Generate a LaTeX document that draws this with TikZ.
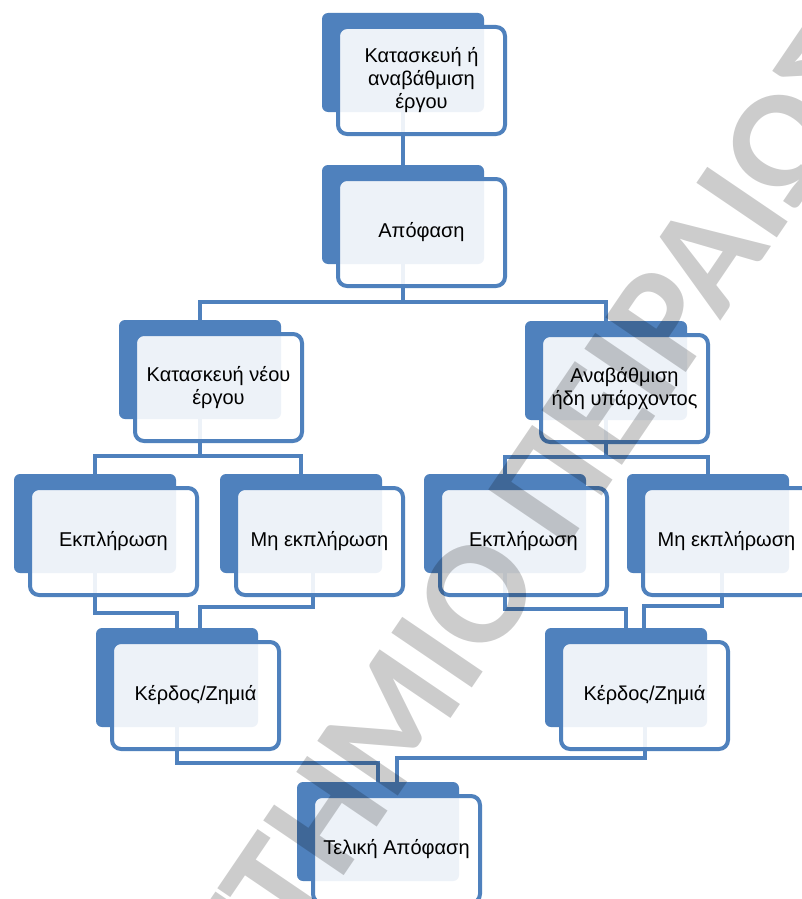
\documentclass[tikz,border=0pt]{standalone}
\usepackage{fontspec}
\setmainfont{Liberation Sans}
\newfontfamily\wmfont{Carlito}
\usetikzlibrary{calc}
\pgfdeclarelayer{bg}
\pgfsetlayers{bg,main}
\definecolor{sblue}{HTML}{4F81BD}
\tikzset{
 backbox/.style={fill=sblue, rounded corners=6pt, minimum width=162pt, minimum height=99pt, inner sep=0pt, draw=none},
 frontbox/.style={draw=sblue, line width=4pt, fill=white, fill opacity=0.9, text opacity=1, rounded corners=9pt, minimum width=167pt, minimum height=107pt, inner sep=0pt, align=center, font=\fontsize{20}{23}\selectfont},
 conn/.style={draw=sblue, line width=3.5pt},
 wmark/.style={text=black, text opacity=0.2, font=\wmfont\bfseries\fontsize{150}{150}\selectfont, inner sep=0pt}
}
\newcommand\abox[4]{%
 \begin{scope}[shift={(#2,#3)}]
 \node[backbox] (#1) at (81,49.5) {};
 \node[frontbox] (#1f) at (99.5,67.5) {#4};
 \end{scope}}
\begin{document}
\begin{tikzpicture}[x=1pt,y=-1pt]
\useasboundingbox (0,0) rectangle (802,899);
\abox{b1}{322}{13}{Κατασκευή ή\\αναβάθμιση\\έργου}
\abox{b2}{322}{165}{Απόφαση}
\abox{b3}{119}{320}{Κατασκευή νέου\\έργου}
\abox{b8}{525}{321}{Αναβάθμιση\\ήδη υπάρχοντος}
\abox{b4}{14}{474}{Εκπλήρωση}
\abox{b5}{220}{474}{Μη εκπλήρωση}
\abox{b9}{424}{474}{Εκπλήρωση}
\abox{b10}{627}{474}{Μη εκπλήρωση}
\abox{b6}{96}{628}{Κέρδος/Ζημιά}
\abox{b11}{545}{628}{Κέρδος/Ζημιά}
\abox{b7}{297}{782}{Τελική Απόφαση}
\begin{pgfonlayer}{bg}
\fill[white] (0,0) rectangle (802,899);
\draw[conn] (b1.south) -- (b2.north);
\draw[conn] (b2.south) -- ++(0,38) -| (b3.north);
\draw[conn] (b2.south) -- ++(0,38) -| (b8.north);
\draw[conn] (b3.south) -- ++(0,37) -| (b4.north);
\draw[conn] (b3.south) -- ++(0,37) -| (b5.north);
\draw[conn] (b8.south) -- ++(0,37) -| (b9.north);
\draw[conn] (b8.south) -- ++(0,37) -| (b10.north);
\draw[conn] (b4.south) -- ++(0,40) -| (b6.north);
\draw[conn] ($(b5.south)+(12,0)$) -- ++(0,34) -| ($(b6.north)+(23,0)$);
\draw[conn] (b9.south) -- ++(0,36) -| (b11.north);
\draw[conn] ($(b10.south)+(14,0)$) -- ++(0,33) -| ($(b11.north)+(18,0)$);
\draw[conn] (b6.south) -- ++(0,36) -| (b7.north);
\draw[conn] ($(b11.south)+(19,0)$) -- ++(0,31) -| ($(b7.north)+(19,0)$);
\end{pgfonlayer}
\node[wmark, rotate=55.8] (wm) at (396,713) {ΠΑΝΕΠΙΣΤΗΜΙΟ ΠΕΙΡΑΙΩΣ};
\end{tikzpicture}
\end{document}
